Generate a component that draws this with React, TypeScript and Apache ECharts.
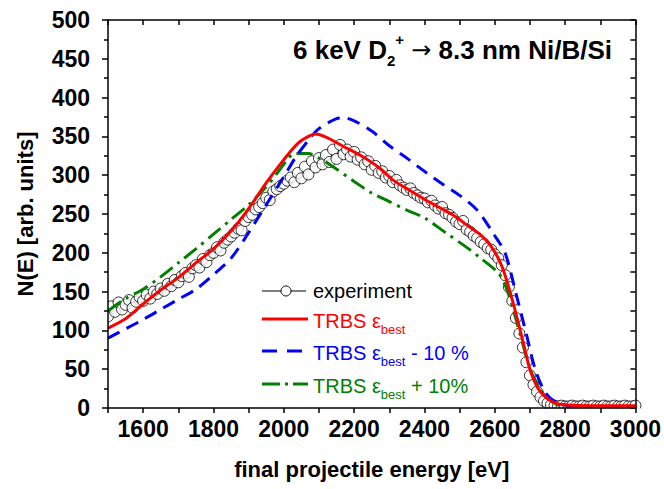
import React, { useEffect, useRef } from "react";
import * as echarts from "echarts";

// Experimental spectrum: channel energies start at 1500 eV, 10 eV apart
const expStart = 1500;
const expStep = 10;
const expCounts = [
  118, 131, 124, 136, 127, 133, 139, 129, 137, 143,
  138, 146, 141, 150, 147, 154, 151, 160, 157, 165,
  162, 170, 174, 169, 180, 184, 181, 192, 188, 197,
  200, 207, 203, 213, 217, 221, 226, 231, 229, 241,
  246, 249, 256, 259, 264, 271, 268, 279, 282, 286,
  289, 293, 297, 291, 303, 296, 311, 301, 318, 310,
  322, 314, 326, 317, 333, 321, 339, 327, 333, 324,
  330, 320, 323, 314, 318, 307, 312, 303, 305, 297,
  299, 291, 294, 287, 284, 281, 283, 277, 274, 271,
  270, 265, 267, 261, 257, 259, 251, 249, 245, 240,
  237, 241, 230, 227, 222, 219, 214, 211, 206, 204,
  198, 193, 184, 171, 156, 138, 116, 96, 78, 59,
  42, 30, 21, 14, 9, 6, 4, 3, 2, 3,
  2, 2, 3, 2, 2, 3, 2, 2, 3, 2,
  2, 3, 2, 2, 3, 2, 2, 3, 2, 2,
  3,
];

// Simulations [energy eV, N(E)]
const trbsBest: [number, number][] = [
  [1500, 103], [1550, 115], [1600, 134], [1650, 152], [1700, 168],
  [1750, 187], [1800, 205], [1850, 228], [1900, 257], [1950, 290],
  [2000, 320], [2040, 341], [2070, 350], [2090, 353], [2120, 349],
  [2170, 337], [2220, 325], [2270, 310], [2310, 294], [2360, 280],
  [2400, 269], [2440, 259], [2480, 249], [2520, 236], [2560, 223],
  [2590, 208], [2620, 183], [2650, 139], [2680, 86], [2700, 50],
  [2725, 24], [2760, 9], [2800, 4], [2900, 3], [3000, 3],
];
const trbsMinus10: [number, number][] = [
  [1500, 90], [1550, 102], [1600, 114], [1650, 127], [1700, 140],
  [1750, 153], [1800, 172], [1850, 193], [1900, 226], [1950, 262],
  [2000, 298], [2035, 324], [2070, 345], [2100, 360], [2150, 373],
  [2170, 374], [2200, 370], [2250, 357], [2300, 338], [2350, 322],
  [2400, 305], [2450, 289], [2500, 274], [2550, 255], [2600, 222],
  [2630, 199], [2660, 148], [2690, 95], [2715, 50], [2745, 19],
  [2780, 6], [2820, 3], [2900, 2], [3000, 2],
];
const trbsPlus10: [number, number][] = [
  [1500, 125], [1550, 141], [1600, 153], [1650, 169], [1700, 187],
  [1750, 205], [1800, 224], [1850, 243], [1900, 262], [1950, 285],
  [1980, 302], [2010, 320], [2030, 328], [2070, 328], [2100, 322],
  [2140, 311], [2200, 292], [2250, 277], [2300, 266], [2350, 255],
  [2400, 245], [2460, 226], [2520, 207], [2560, 193], [2610, 174],
  [2630, 158], [2650, 131], [2680, 82], [2705, 45], [2745, 15],
  [2780, 4], [2820, 2], [2900, 2], [3000, 2],
];

const xMin = 1500;
const xMax = 3000;
const yMin = 0;
const yMax = 500;

const FONT = "Arial, 'Liberation Sans', sans-serif";

export default function App() {
  const ref = useRef<HTMLDivElement>(null);

  useEffect(() => {
    if (!ref.current) return;
    const chart = echarts.init(ref.current, undefined, { renderer: "svg" });
    const expData = expCounts.map((v, i) => [expStart + i * expStep, v]);
    const axisLine = { show: true, onZero: false, lineStyle: { color: "#000", width: 1.5 } };
    const tickStyle = { color: "#000", width: 1.5 };
    const labelStyle = {
      color: "#000",
      fontFamily: FONT,
      fontWeight: "bold" as const,
      fontSize: 23,
    };
    const legX = 262;
    const legTextX = 313;
    const rows = [291, 319, 351, 384];
    const gL = 108, gT = 20, gW = 528, gH = 388;

    const option: any = {
      animation: false,
      backgroundColor: "#fff",
      grid: { left: gL, top: gT, width: gW, height: gH },
      xAxis: [
        {
          type: "value",
          min: xMin,
          max: xMax,
          interval: 100,
          position: "bottom",
          z: 20,
          axisLine,
          axisTick: { inside: false, length: 5, lineStyle: tickStyle },
          axisLabel: {
            ...labelStyle,
            margin: 9,
            formatter: (v: number) => (v % 200 === 0 ? String(v) : ""),
          },
          splitLine: { show: false },
          name: "final projectile energy [eV]",
          nameLocation: "middle",
          nameGap: 50,
          nameTextStyle: { ...labelStyle, fontSize: 22 },
        },
        {
          type: "value",
          min: xMin,
          max: xMax,
          interval: 100,
          position: "top",
          z: 20,
          axisLine,
          axisTick: { inside: true, length: 5, lineStyle: tickStyle },
          axisLabel: { show: false },
          splitLine: { show: false },
        },
      ],
      yAxis: [
        {
          type: "value",
          min: yMin,
          max: yMax,
          interval: 50,
          position: "left",
          z: 20,
          axisLine,
          axisTick: { inside: false, length: 6, lineStyle: tickStyle },
          minorTick: { show: true, splitNumber: 2, length: 4, lineStyle: tickStyle },
          axisLabel: { ...labelStyle, margin: 18 },
          splitLine: { show: false },
          minorSplitLine: { show: false },
          name: "N(E) [arb. units]",
          nameLocation: "middle",
          nameGap: 72,
          nameTextStyle: { ...labelStyle, fontSize: 22 },
        },
        {
          type: "value",
          min: yMin,
          max: yMax,
          interval: 25,
          position: "right",
          z: 20,
          axisLine,
          axisTick: { inside: true, length: 5, lineStyle: tickStyle },
          axisLabel: { show: false },
          splitLine: { show: false },
        },
      ],
      series: [
        {
          name: "experiment",
          type: "scatter",
          data: expData,
          symbol: "circle",
          symbolSize: 11,
          itemStyle: { color: "#fff", borderColor: "#000", borderWidth: 1 },
          z: 2,
        },
        {
          name: "TRBS best + 10%",
          type: "line",
          data: trbsPlus10,
          smooth: 0.3,
          showSymbol: false,
          lineStyle: { color: "#008000", width: 3, type: [16, 6, 3, 6] },
          z: 3,
        },
        {
          name: "TRBS best - 10 %",
          type: "line",
          data: trbsMinus10,
          smooth: 0.3,
          showSymbol: false,
          lineStyle: { color: "#0000ff", width: 3, type: [13, 8] },
          z: 3,
        },
        {
          name: "TRBS best",
          type: "line",
          data: trbsBest,
          smooth: 0.3,
          showSymbol: false,
          lineStyle: { color: "#ff0000", width: 3 },
          z: 4,
        },
      ],
      graphic: [
        // masks so markers are clipped at the frame
        { type: "rect", z: 8, silent: true, shape: { x: gL - 14, y: gT + gH + 0.5, width: gW + 28, height: 10 }, style: { fill: "#fff" } },
        { type: "rect", z: 8, silent: true, shape: { x: gL - 14, y: gT, width: 13.5, height: gH }, style: { fill: "#fff" } },
        {
          type: "text",
          x: 612,
          y: 50,
          z: 10,
          style: {
            text: "6 keV D{s|2}{p|+} {a|→} 8.3 nm Ni/B/Si",
            font: `bold 26px ${FONT}`,
            fill: "#000",
            textAlign: "right",
            textVerticalAlign: "middle",
            rich: {
              s: { fontSize: 15, fontWeight: "bold", fontFamily: FONT, fill: "#000", verticalAlign: "bottom", lineHeight: 36 },
              p: { fontSize: 15, fontWeight: "bold", fontFamily: FONT, fill: "#000", verticalAlign: "top", lineHeight: 36 },
              a: { fontSize: 24, fontWeight: "normal", fontFamily: "'DejaVu Sans', sans-serif", fill: "#000" },
            },
          },
        },
        // legend: experiment
        { type: "line", z: 10, shape: { x1: legX, y1: rows[0], x2: legX + 44, y2: rows[0] }, style: { stroke: "#000", lineWidth: 1 } },
        { type: "circle", z: 11, shape: { cx: legX + 24, cy: rows[0], r: 5 }, style: { fill: "#fff", stroke: "#000", lineWidth: 1 } },
        { type: "text", z: 10, x: legTextX, y: rows[0], style: { text: "experiment", font: `20px ${FONT}`, fill: "#000", textVerticalAlign: "middle" } },
        // legend: best
        { type: "line", z: 10, shape: { x1: legX, y1: rows[1], x2: legX + 46, y2: rows[1] }, style: { stroke: "#ff0000", lineWidth: 3 } },
        {
          type: "text", z: 10, x: legTextX, y: rows[1] + 2,
          style: {
            text: "TRBS ε{b|best}", font: `20px ${FONT}`, fill: "#ff0000", textVerticalAlign: "middle",
            rich: { b: { fontSize: 13, fontFamily: FONT, fill: "#ff0000", verticalAlign: "bottom", lineHeight: 30 } },
          },
        },
        // legend: -10 %
        { type: "line", z: 10, shape: { x1: legX, y1: rows[2], x2: legX + 40, y2: rows[2] }, style: { stroke: "#0000ff", lineWidth: 3, lineDash: [15, 10] } },
        {
          type: "text", z: 10, x: legTextX, y: rows[2] + 2,
          style: {
            text: "TRBS ε{b|best} - 10 %", font: `20px ${FONT}`, fill: "#0000ff", textVerticalAlign: "middle",
            rich: { b: { fontSize: 13, fontFamily: FONT, fill: "#0000ff", verticalAlign: "bottom", lineHeight: 30 } },
          },
        },
        // legend: +10%
        { type: "line", z: 10, shape: { x1: legX, y1: rows[3], x2: legX + 46, y2: rows[3] }, style: { stroke: "#008000", lineWidth: 3, lineDash: [18, 5, 3, 5] } },
        {
          type: "text", z: 10, x: legTextX, y: rows[3] + 2,
          style: {
            text: "TRBS ε{b|best} + 10%", font: `20px ${FONT}`, fill: "#008000", textVerticalAlign: "middle",
            rich: { b: { fontSize: 13, fontFamily: FONT, fill: "#008000", verticalAlign: "bottom", lineHeight: 30 } },
          },
        },
      ],
    };

    chart.setOption(option);
    return () => chart.dispose();
  }, []);

  return (
    <div
      ref={ref}
      style={{ position: "fixed", left: 0, top: 0, width: 664, height: 489, background: "#fff" }}
    />
  );
}
